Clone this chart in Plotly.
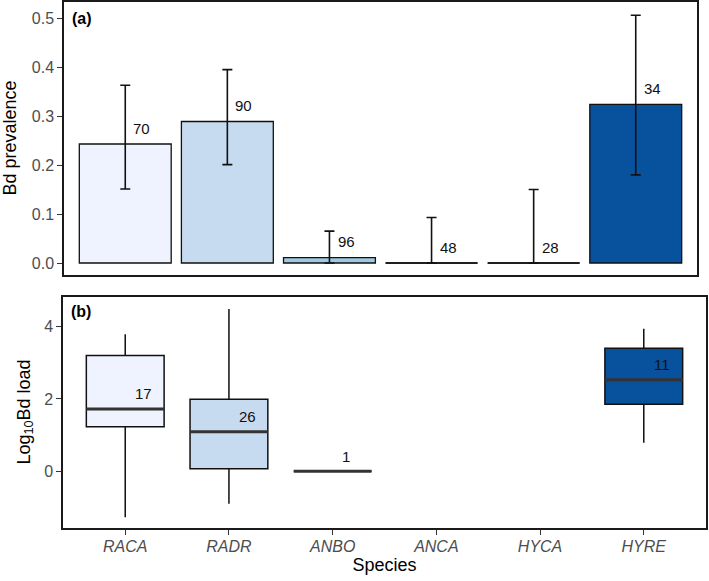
import plotly.graph_objects as go

# ---------------- data ----------------
species = ["RACA", "RADR", "ANBO", "ANCA", "HYCA", "HYRE"]
colors = ["#EFF3FF", "#C6DBEF", "#9ECAE1", "#6BAED6", "#3182BD", "#08519C"]
prevalence = [0.243, 0.289, 0.011, 0.0, 0.0, 0.324]
ci_low = [0.151, 0.201, 0.0, 0.0, 0.0, 0.180]
ci_high = [0.363, 0.395, 0.065, 0.093, 0.150, 0.506]
n_sampled = [70, 90, 96, 48, 28, 34]

load_species = ["RACA", "RADR", "ANBO", "HYRE"]
load_lower = [-1.27, -0.90, 0.0, 0.79]
load_q1 = [1.23, 0.07, 0.0, 1.85]
load_median = [1.72, 1.09, 0.0, 2.53]
load_q3 = [3.20, 1.99, 0.0, 3.40]
load_upper = [3.79, 4.49, 0.0, 3.94]
n_positive = [17, 26, 1, 11]

# ---------------- style ----------------
FONT = "Liberation Sans, Arial, Helvetica, sans-serif"
BAR_W = 0.9
BOX_W = 0.75
W, H = 709, 581
ML, MR, MT, MB = 63, 3, 2, 53

fig = go.Figure()

xs = list(range(len(species)))

# top: prevalence bars
fig.add_trace(go.Bar(
    x=xs, y=prevalence, width=BAR_W,
    marker=dict(color=colors, line=dict(color="#111111", width=1.3)),
    error_y=dict(type="data", symmetric=False,
                 array=[h - p for h, p in zip(ci_high, prevalence)],
                 arrayminus=[p - l for p, l in zip(prevalence, ci_low)],
                 color="#111111", thickness=1.6, width=5),
    xaxis="x", yaxis="y", showlegend=False, hoverinfo="skip",
))

# zero-height bars drawn as a flat line
zx, zy = [], []
for i, p in enumerate(prevalence):
    if p == 0:
        zx += [i - BAR_W / 2, i + BAR_W / 2, None]
        zy += [p, p, None]
fig.add_trace(go.Scatter(x=zx, y=zy, mode="lines",
                         line=dict(color="#111111", width=1.3),
                         xaxis="x", yaxis="y", showlegend=False, hoverinfo="skip"))

for i, (p, n) in enumerate(zip(prevalence, n_sampled)):
    fig.add_annotation(x=i + 0.06, y=p + 0.032, xref="x", yref="y",
                       text=str(n), showarrow=False, xanchor="left", yanchor="middle",
                       font=dict(size=15, color="#111111", family=FONT))

# bottom: load boxes
for k, s in enumerate(load_species):
    i = species.index(s)
    fig.add_trace(go.Box(
        x=[i], q1=[load_q1[k]], median=[load_median[k]], q3=[load_q3[k]],
        lowerfence=[load_lower[k]], upperfence=[load_upper[k]],
        fillcolor=colors[i], line=dict(color="#111111", width=1.5),
        width=BOX_W, whiskerwidth=0, boxpoints=False,
        xaxis="x2", yaxis="y2", showlegend=False, hoverinfo="skip",
    ))
    fig.add_trace(go.Scatter(
        x=[i - BOX_W / 2, i + BOX_W / 2], y=[load_median[k], load_median[k]],
        mode="lines", line=dict(color="#333333", width=3),
        xaxis="x2", yaxis="y2", showlegend=False, hoverinfo="skip",
    ))
    fig.add_annotation(x=i + 0.075, y=load_median[k] + 0.42, xref="x2", yref="y2",
                       text=str(n_positive[k]), showarrow=False,
                       xanchor="left", yanchor="middle",
                       font=dict(size=15, color="#111111", family=FONT))

plot_h = H - MT - MB
plot_w = W - ML - MR
top_dom = [(H - MB - 275) / plot_h, 1.0]
bot_dom = [0.0, (H - MB - 297) / plot_h]
top_x_dom = [(64 - ML) / plot_w, (697 - ML) / plot_w]

# panel labels
fig.add_annotation(x=top_x_dom[0], y=1.0, xref="paper", yref="paper", text="<b>(a)</b>",
                   showarrow=False, xanchor="left", yanchor="middle", xshift=6, yshift=-16,
                   font=dict(size=16, color="black", family=FONT))
fig.add_annotation(x=0, y=bot_dom[1], xref="paper", yref="paper", text="<b>(b)</b>",
                   showarrow=False, xanchor="left", yanchor="middle", xshift=6, yshift=-14,
                   font=dict(size=16, color="black", family=FONT))

# y-axis titles
fig.add_annotation(x=0, y=sum(top_dom) / 2, xref="paper", yref="paper", text="Bd prevalence",
                   showarrow=False, textangle=-90, xanchor="center", yanchor="middle",
                   xshift=9 - ML, font=dict(size=18, color="black", family=FONT))
fig.add_annotation(x=0, y=sum(bot_dom) / 2, xref="paper", yref="paper",
                   text="Log<sub>10</sub>Bd load",
                   showarrow=False, textangle=-90, xanchor="center", yanchor="middle",
                   xshift=25 - ML, font=dict(size=18, color="black", family=FONT))

axis_common = dict(showline=True, mirror=True, linecolor="#1a1a1a", linewidth=1.5,
                   showgrid=False, zeroline=False, ticklen=5, automargin=False,
                   tickcolor="#333333", tickwidth=1.2,
                   tickfont=dict(size=16, color="#4D4D4D", family=FONT))

fig.update_layout(
    width=W, height=H,
    margin=dict(l=ML, r=MR, t=MT, b=MB),
    paper_bgcolor="white", plot_bgcolor="white",
    font=dict(family=FONT),
    boxmode="overlay",
    xaxis=dict(domain=top_x_dom, anchor="y", range=[-0.6, 5.6],
               tickvals=xs, showticklabels=False, ticks="", **axis_common),
    yaxis=dict(domain=top_dom, anchor="x", range=[-0.0245, 0.533],
               tickvals=[0, 0.1, 0.2, 0.3, 0.4, 0.5], tickformat=".1f",
               ticks="outside", **axis_common),
    xaxis2=dict(domain=[0, 1], anchor="y2", range=[-0.6, 5.6],
                tickvals=xs, ticktext=[f"<i>{s}</i>" for s in species],
                ticks="outside", ticklabelstandoff=-2,
                title=dict(text="Species", standoff=2,
                           font=dict(size=18, color="black", family=FONT)),
                **axis_common),
    yaxis2=dict(domain=bot_dom, anchor="x2", range=[-1.57, 4.82],
                tickvals=[0, 2, 4], ticks="outside", **axis_common),
)

fig.write_html("out.html", config={"displayModeBar": False},
               post_script="document.body.style.margin='0';document.body.style.padding='0';")
